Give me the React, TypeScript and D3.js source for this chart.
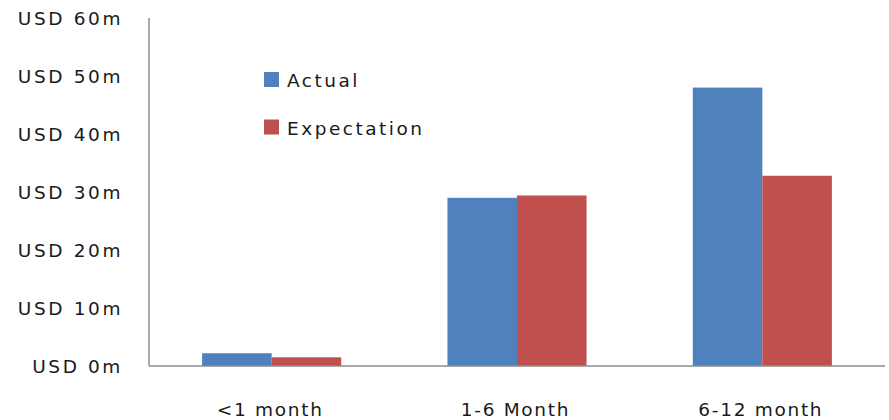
import React from "react";
import * as d3 from "d3";

const categories = ["<1 month", "1-6 Month", "6-12 month"];
const seriesNames = ["Actual", "Expectation"];
const actual = [2.2, 29.0, 48.0];
const expectation = [1.5, 29.4, 32.8];
const yTicks = [0, 10, 20, 30, 40, 50, 60];
const yTickLabels = ["USD 0m", "USD 10m", "USD 20m", "USD 30m", "USD 40m", "USD 50m", "USD 60m"];
const colors = ["#4F81BD", "#C0504D"];

const W = 889;
const H = 420;
const left = 149;
const right = 885;
const top = 18;
const bottom = 366;

export default function App() {
  const y = d3.scaleLinear().domain([0, 60]).range([bottom, top]);
  const x0 = d3.scaleBand<string>().domain(categories).range([left, right]).paddingInner(0.433).paddingOuter(0.2165);
  const x1 = d3.scaleBand<string>().domain(seriesNames).range([0, x0.bandwidth()]);
  const series = [actual, expectation];
  const font = "DejaVu Sans, Verdana, sans-serif";
  return (
    <svg width={W} height={H} style={{ position: "absolute", left: 0, top: 0 }}>
      <rect width={W} height={H} fill="#fff" />
      {categories.map((c, i) =>
        series.map((s, j) => (
          <rect
            key={c + j}
            x={(x0(c) ?? 0) + (x1(seriesNames[j]) ?? 0)}
            y={y(s[i])}
            width={x1.bandwidth()}
            height={bottom - y(s[i])}
            fill={colors[j]}
          />
        ))
      )}
      <line x1={left} x2={left} y1={top} y2={bottom} stroke="#8c8c8c" strokeWidth={1.5} />
      <line x1={left} x2={right} y1={bottom} y2={bottom} stroke="#8c8c8c" strokeWidth={1.5} />
      {yTicks.map((t, i) => (
        <text
          key={t}
          x={123}
          y={y(t)}
          dy="0.36em"
          textAnchor="end"
          fontFamily={font}
          fontSize={18.5}
          letterSpacing={2.6}
          fill="#1a1a1a"
        >
          {yTickLabels[i]}
        </text>
      ))}
      {categories.map((c) => (
        <text
          key={c}
          x={(x0(c) ?? 0) + x0.bandwidth() / 2 - 1.5}
          y={416}
          textAnchor="middle"
          fontFamily={font}
          fontSize={18.5}
          letterSpacing={1.7}
          fill="#1a1a1a"
        >
          {c}
        </text>
      ))}
      {seriesNames.map((n, j) => (
        <g key={n} transform={`translate(264, ${72 + j * 47.5})`}>
          <rect x={0} y={0} width={15} height={15} fill={colors[j]} />
          <text x={23} y={15} fontFamily={font} fontSize={18.5} letterSpacing={2.5} fill="#1a1a1a">
            {n}
          </text>
        </g>
      ))}
    </svg>
  );
}
